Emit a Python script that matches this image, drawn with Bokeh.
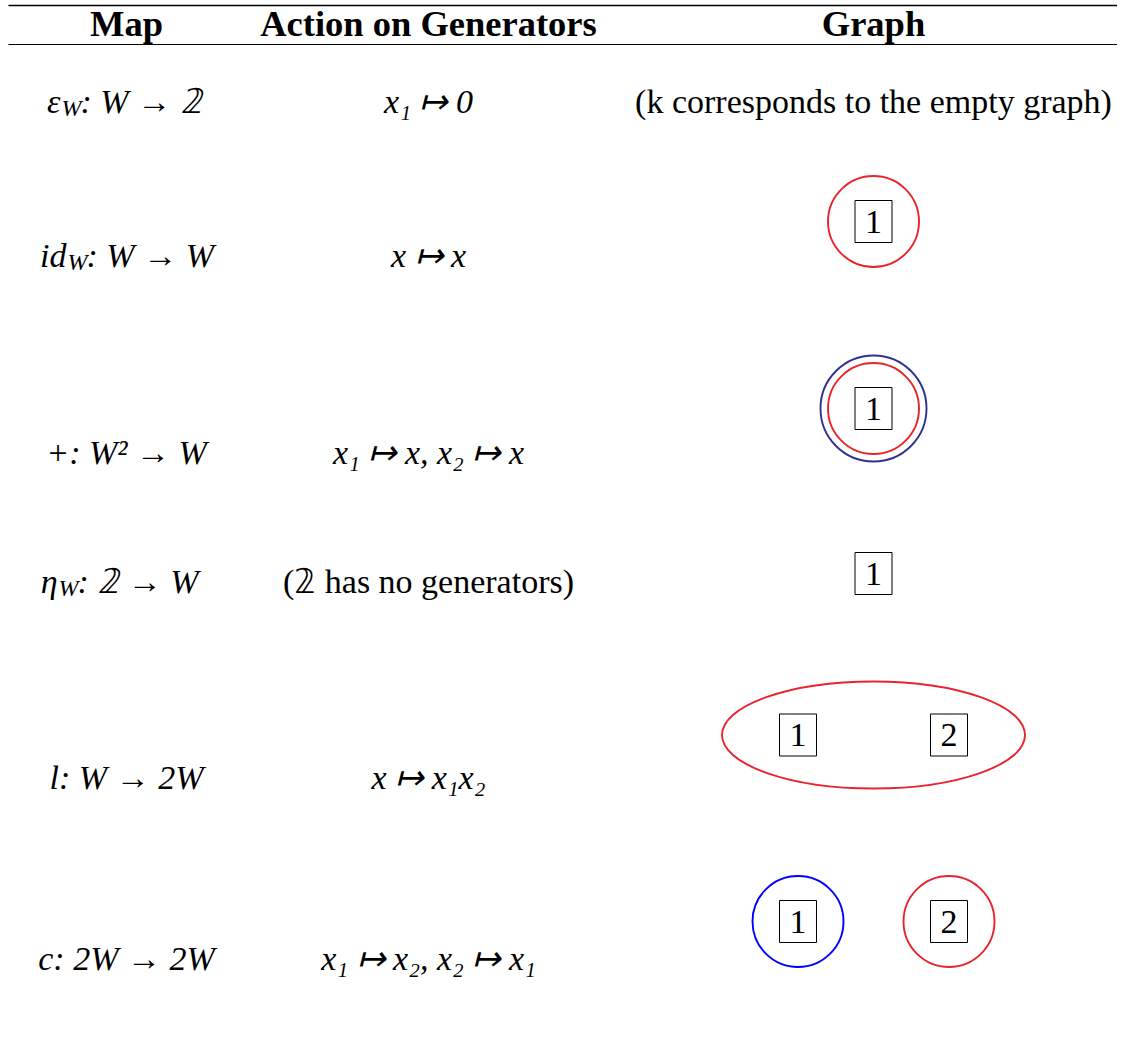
from bokeh.plotting import figure
from bokeh.models import Range1d, ColumnDataSource
from bokeh.embed import file_html
from bokeh.resources import INLINE
from bokeh.core.properties import value

# ---------------- data ----------------
headers = ["Map", "Action on Generators", "Graph"]

map_head = ["ε", "id", "+", "η", "l", "c"]
map_sub = ["W", "W", "", "W", "", ""]
map_tail = [": W → 𝟚", ": W → W", ": W² → W", ": 𝟚 → W", ": W → 2W", ": 2W → 2W"]

actions = ["x₁ ↦ 0", "x ↦ x", "x₁ ↦ x, x₂ ↦ x", "(𝟚 has no generators)",
           "x ↦ x₁x₂", "x₁ ↦ x₂, x₂ ↦ x₁"]
action_italic = [True, True, True, False, True, True]

graph_notes = ["(k corresponds to the empty graph)", "", "", "", "", ""]
graph_nodes = [[], ["1"], ["1"], ["1"], ["1", "2"], ["1", "2"]]

edge_rows = [1, 2, 2, 4, 5, 5]
edge_members = [["1"], ["1"], ["1"], ["1", "2"], ["1"], ["2"]]
edge_colors = ["#E8232B", "#2E3192", "#E8232B", "#E8232B", "#0000FF", "#E8232B"]
edge_levels = [0, 1, 0, 0, 0, 0]

# ---------------- layout ----------------
W, H = 1117, 1047
col_x = [126, 428, 873]
head_base = 23
row_base = [101, 255, 452, 581, 777, 958]
graph_cy = [None, 221, 408, 573, 734.5, 921]
sub_anchor = [60, 66, None, 57, None, None]
node_gap = 151
FONT = value("Liberation Serif")

p = figure(width=W, height=H, x_range=Range1d(0, W), y_range=Range1d(H, 0),
           x_axis_type=None, y_axis_type=None, toolbar_location=None,
           output_backend="svg", min_border=0)
p.grid.visible = False
p.outline_line_color = None
p.background_fill_color = "white"
p.border_fill_color = "white"

# rules
p.segment(x0=[8], y0=[5], x1=[W], y1=[5], line_color="black", line_width=1.6)
p.segment(x0=[8], y0=[44], x1=[W], y1=[44], line_color="black", line_width=1)

# headers
p.text(x=col_x, y=[head_base] * 3, text=headers, text_font=FONT, text_font_size="36.5px",
       text_font_style="bold", text_align="center", text_baseline="alphabetic",
       text_color="black")

# map column
for i in range(len(map_head)):
    y = row_base[i]
    if map_sub[i]:
        ax = sub_anchor[i]
        p.text(x=[ax], y=[y], text=[map_head[i]], text_font=FONT, text_font_size="34px",
               text_font_style="italic", text_align="right", text_baseline="alphabetic",
               text_color="black")
        p.text(x=[ax + 1], y=[y + 6], text=[map_sub[i]], text_font=FONT,
               text_font_size="24px", text_font_style="italic", text_align="left",
               text_baseline="alphabetic", text_color="black")
        p.text(x=[ax + 20], y=[y], text=[map_tail[i]], text_font=FONT,
               text_font_size="34px", text_font_style="italic", text_align="left",
               text_baseline="alphabetic", text_color="black")
    else:
        p.text(x=[col_x[0]], y=[y], text=[map_head[i] + map_tail[i]], text_font=FONT,
               text_font_size="34px", text_font_style="italic", text_align="center",
               text_baseline="alphabetic", text_color="black")

# action column
for i, a in enumerate(actions):
    p.text(x=[col_x[1]], y=[row_base[i]], text=[a], text_font=FONT, text_font_size="34px",
           text_font_style="italic" if action_italic[i] else "normal",
           text_align="center", text_baseline="alphabetic", text_color="black")

# graph notes
for i, n in enumerate(graph_notes):
    if n:
        p.text(x=[col_x[2]], y=[row_base[i]], text=[n], text_font=FONT,
               text_font_size="34px", text_align="center", text_baseline="alphabetic",
               text_color="black")

# node positions
def node_x(row, label):
    labels = graph_nodes[row]
    k = len(labels)
    j = labels.index(label)
    return col_x[2] + (j - (k - 1) / 2) * node_gap

# hyperedges
ex, ey, ew, eh, ec = [], [], [], [], []
for r, mem, c, lv in zip(edge_rows, edge_members, edge_colors, edge_levels):
    xs = [node_x(r, m) for m in mem]
    cx = sum(xs) / len(xs)
    if len(xs) > 1:
        w = (max(xs) - min(xs)) + 152
        h = 107
    else:
        w = h = 91 + 15 * lv
    ex.append(cx); ey.append(graph_cy[r]); ew.append(w); eh.append(h); ec.append(c)
p.ellipse(x="x", y="y", width="w", height="h", line_color="c", fill_color=None,
          line_width=1.9, source=ColumnDataSource(dict(x=ex, y=ey, w=ew, h=eh, c=ec)))

# nodes
nx, ny, nl = [], [], []
for r, labels in enumerate(graph_nodes):
    for lab in labels:
        nx.append(node_x(r, lab)); ny.append(graph_cy[r]); nl.append(lab)
src = ColumnDataSource(dict(x=nx, y=ny, ty=ny, t=nl))
p.rect(x="x", y="y", width=37, height=42, fill_color=None, line_color="black",
       line_width=1, source=src)
p.text(x="x", y="ty", text="t", text_font=FONT, text_font_size="34px",
       text_align="center", text_baseline="alphabetic", text_color="black", source=src)

open("out.html", "w").write(file_html(p, INLINE))
